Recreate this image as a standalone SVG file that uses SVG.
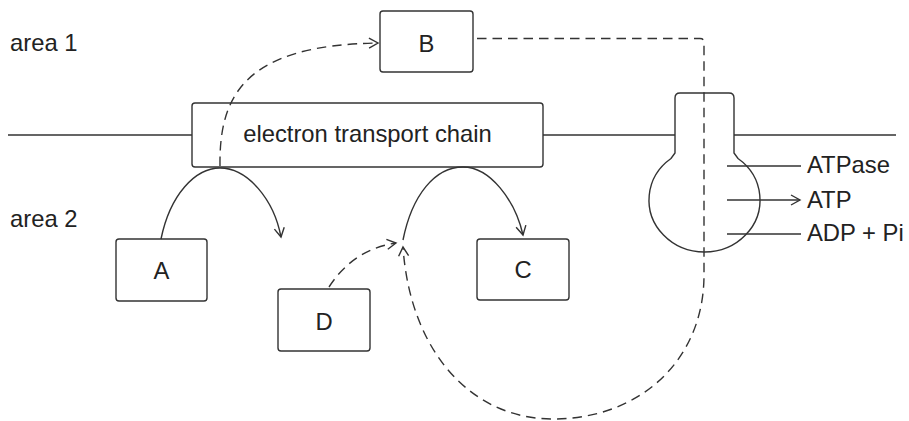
<svg xmlns="http://www.w3.org/2000/svg" width="909" height="421" viewBox="0 0 909 421">
<style>
.box{fill:#fff;stroke:#333;stroke-width:1.4}
.ln{fill:none;stroke:#333;stroke-width:1.4}
.dash{fill:none;stroke:#333;stroke-width:1.4;stroke-dasharray:9.5 6}
.t{font-family:"Liberation Sans",Arial,sans-serif;font-size:23.8px;fill:#222}
.m{text-anchor:middle}
</style>
<defs>
<marker id="arr" markerUnits="userSpaceOnUse" viewBox="-10 -6 12 12" refX="0" refY="0" markerWidth="12" markerHeight="12" orient="auto">
<path d="M-9,-5 L0,0 L-9,5" fill="none" stroke="#333" stroke-width="1.4"/>
</marker>
</defs>
<g id="labels">
<text class="t" x="10" y="50.5">area 1</text>
<text class="t" x="10" y="226.5">area 2</text>
</g>
<g id="membrane">
<path class="ln" d="M8,135 H192 M543,135 H675 M734,135 H896"/>
</g>
<g id="atpase">
<path class="ln" fill="#fff" d="M675,153 L675,98 Q675,93 680,93 L729,93 Q734,93 734,98 L734,153 L738,158.5 A55.5,52 0 1 1 671,158.5 Z"/>
<path class="ln" d="M727,166 H801 M727,234 H801"/>
<path class="ln" d="M727,200 H800" stroke-width="2" marker-end="url(#arr)"/>
<text class="t" x="807" y="173">ATPase</text>
<text class="t" x="807" y="207.5">ATP</text>
<text class="t" x="807" y="240.5">ADP + Pi</text>
</g>
<g id="etc">
<rect class="box" x="192" y="103" width="351" height="64" rx="3"/>
<text class="t m" x="367.5" y="142">electron transport chain</text>
</g>
<g id="B">
<rect class="box" x="380" y="11" width="93" height="61" rx="3"/>
<text class="t m" x="426.5" y="52">B</text>
</g>
<g id="A">
<rect class="box" x="116" y="239" width="91" height="62" rx="3"/>
<text class="t m" x="161.5" y="279">A</text>
</g>
<g id="C">
<rect class="box" x="477" y="239" width="92" height="61" rx="3"/>
<text class="t m" x="523" y="277.5">C</text>
</g>
<g id="D">
<rect class="box" x="278" y="289" width="92" height="62" rx="3"/>
<text class="t m" x="324" y="329.5">D</text>
</g>
<g id="connectors">
<path class="ln" d="M161,239 C170,195 195,168 220,168 C248,168 274,200 281,237" marker-end="url(#arr)"/>
<path class="ln" d="M403,240 C412,195 435,167 463,167 C490,167 515,200 523,235" marker-end="url(#arr)"/>
<path class="dash" d="M220,166 C219,95 245,45 378,43" marker-end="url(#arr)"/>
<path class="dash" d="M329,287 C345,262 368,247 396,243" marker-end="url(#arr)"/>
<path class="dash" d="M477,38.5 L700,38.5 Q704,38.5 704,42.5 L704,275 C704,360 640,419 553,419 C470,419 410,350 403,247" marker-end="url(#arr)"/>
</g>
</svg>
